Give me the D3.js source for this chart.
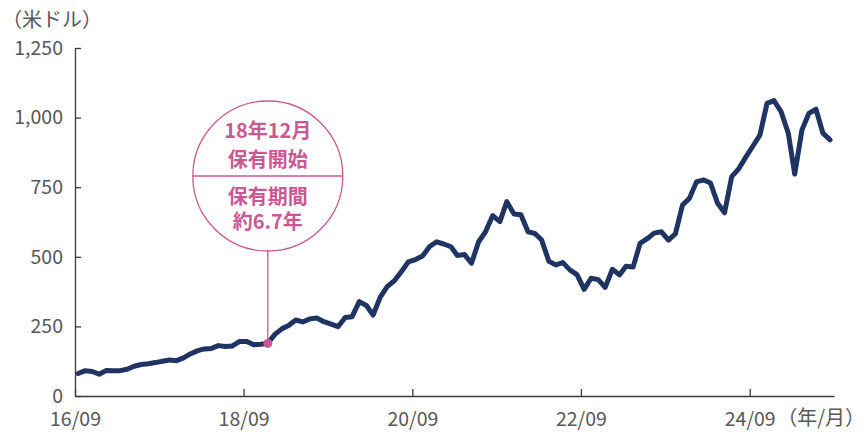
<!DOCTYPE html>
<html>
<head>
<meta charset="utf-8">
<script src="https://cdn.jsdelivr.net/npm/d3@7"></script>
<style>
  html, body { margin: 0; padding: 0; background: #fff; }
  svg { display: block; }
  text { font-family: "Noto Sans CJK JP", "Noto Sans", sans-serif; }
</style>
</head>
<body>
<svg id="chart" width="865" height="432"></svg>
<script>
// Monthly values (US$), 2016/09 .. 2025/08
const startYear = 2016, startMonth = 9;
const values = [
  81, 91, 88, 78, 92, 91, 91, 96, 107, 113,
  116, 120, 125, 129, 127, 137, 152, 163, 169, 171,
  181, 178, 180, 196, 196, 184, 186, 189, 222, 242,
  253, 273, 266, 277, 280, 267, 258, 249, 282, 285,
  339, 325, 291, 355, 393, 414, 446, 482, 490, 503,
  537, 554, 546, 536, 505, 508, 477, 554, 590, 648,
  626, 698, 654, 651, 590, 583, 560, 484, 471, 479,
  453, 436, 383, 423, 418, 390, 455, 435, 466, 463,
  548, 565, 585, 590, 560, 582, 686, 710, 770, 776,
  765, 692, 658, 788, 816, 858, 898, 937, 1051, 1061,
  1021, 944, 797, 955, 1015, 1030, 944, 920
];
const xTickLabels = ["16/09", "18/09", "20/09", "22/09", "24/09"];
const yTickValues = [0, 250, 500, 750, 1000, 1250];
const yUnit = "（米ドル）";
const xUnit = "（年/月）";
const markerDate = [2018, 12];
const annotationTop = ["18年12月", "保有開始"];
const annotationBottom = ["保有期間", "約6.7年"];

const data = values.map((v, i) => ({
  date: new Date(startYear, startMonth - 1 + i, 15),
  value: v
}));

const svg = d3.select("#chart");
const navy = "#1f3462";
const pink = "#cc5893";
const axisColor = "#3e3a39";
const labelColor = "#595757";

const x = d3.scaleTime()
  .domain([new Date(2016, 8, 1), new Date(2025, 8, 1)])
  .range([75, 834]);
const y = d3.scaleLinear().domain([0, 1250]).range([396, 48]);

const parseTick = d3.timeParse("%y/%m");

// Y axis
const yAxis = svg.append("g")
  .attr("transform", "translate(75,0)")
  .call(d3.axisLeft(y).tickValues(yTickValues).tickFormat(d3.format(","))
    .tickSizeInner(-6).tickSizeOuter(0).tickPadding(12));
yAxis.select(".domain").attr("stroke", axisColor).attr("stroke-width", 1.3);
yAxis.selectAll(".tick line").attr("stroke", axisColor).attr("stroke-width", 1.3);
yAxis.selectAll(".tick text").attr("fill", labelColor).attr("font-size", 19.5);

// X axis
const xAxis = svg.append("g")
  .attr("transform", "translate(0,396)")
  .call(d3.axisBottom(x).tickValues(xTickLabels.map(parseTick))
    .tickFormat(d3.timeFormat("%y/%m"))
    .tickSizeInner(-7).tickSizeOuter(0).tickPadding(16));
xAxis.select(".domain").attr("stroke", axisColor).attr("stroke-width", 1.3);
xAxis.selectAll(".tick line").attr("stroke", axisColor).attr("stroke-width", 1.3);
xAxis.selectAll(".tick text").attr("fill", labelColor).attr("font-size", 19.5);

// Units
svg.append("text").attr("x", 2).attr("y", 27).attr("fill", labelColor)
  .attr("font-size", 20).text(yUnit);
svg.append("text").attr("x", 865).attr("y", 425).attr("text-anchor", "end")
  .attr("fill", labelColor).attr("font-size", 20).text(xUnit);

// Line
const line = d3.line().x(d => x(d.date)).y(d => y(d.value));
svg.append("path").datum(data)
  .attr("d", line)
  .attr("fill", "none")
  .attr("stroke", navy)
  .attr("stroke-width", 5)
  .attr("stroke-linejoin", "round")
  .attr("stroke-linecap", "round");

// Annotation
const md = new Date(markerDate[0], markerDate[1] - 1, 15);
const mPoint = data.find(d => d.date.getTime() === md.getTime());
const cx = x(md), cy = 176, r = 75;
svg.append("line")
  .attr("x1", cx).attr("x2", cx)
  .attr("y1", cy + r).attr("y2", y(mPoint.value))
  .attr("stroke", pink).attr("stroke-width", 1.3);
svg.append("circle").attr("cx", cx).attr("cy", cy).attr("r", r)
  .attr("fill", "#fff").attr("stroke", pink).attr("stroke-width", 1.3);
svg.append("line").attr("x1", cx - r).attr("x2", cx + r)
  .attr("y1", cy).attr("y2", cy)
  .attr("stroke", pink).attr("stroke-width", 1.3);
svg.append("circle").attr("cx", cx).attr("cy", y(mPoint.value)).attr("r", 4.5)
  .attr("fill", pink);

const annot = svg.append("g").attr("fill", pink).attr("font-size", 20)
  .attr("font-weight", "bold").attr("text-anchor", "middle");
annotationTop.forEach((t, i) => {
  annot.append("text").attr("x", cx).attr("y", cy - 45 + i * 29).attr("dy", "0.36em").text(t);
});
annotationBottom.forEach((t, i) => {
  annot.append("text").attr("x", cx).attr("y", cy + 21 + i * 25).attr("dy", "0.36em").text(t);
});
</script>
</body>
</html>
